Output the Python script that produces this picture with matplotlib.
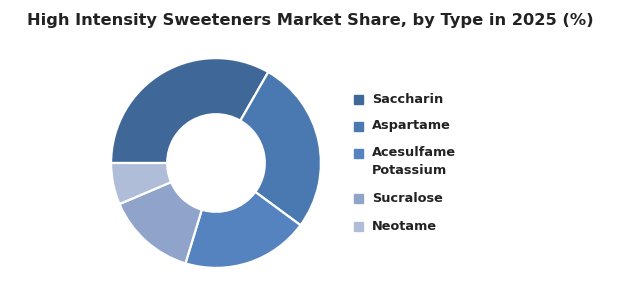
import matplotlib.pyplot as plt
from matplotlib.patches import Rectangle

# data
types = ['Saccharin', 'Aspartame', 'Acesulfame\nPotassium', 'Sucralose', 'Neotame']
shares = [33.3, 26.8, 19.6, 13.9, 6.4]
colors = ['#3F6797', '#4A79B1', '#5483BF', '#8FA3CB', '#AFBDD8']

fig = plt.figure(figsize=(6.2, 3.0), dpi=100)

# donut
cx, cy, r = 216, 163, 107
ax = fig.add_axes([(cx - r) / 620, (300 - cy - r) / 300, 2 * r / 620, 2 * r / 300])
ax.pie(shares, colors=colors, startangle=180, counterclock=False,
       wedgeprops=dict(width=0.535, edgecolor='white', linewidth=1.6))
ax.set_xlim(-1.02, 1.02)
ax.set_ylim(-1.02, 1.02)
ax.set_aspect('equal')
ax.axis('off')

# title
fig.text(0.5, 1 - 21 / 300, 'High Intensity Sweeteners Market Share, by Type in 2025 (%)',
         ha='center', va='center', fontsize=11.7, fontweight='bold', color='#222222')

# legend drawn by hand, square sits beside the first line of each label
ys = [99, 126, 153, 198, 226]
for lab, col, y in zip(types, colors, ys):
    fig.patches.append(Rectangle((354 / 620, 1 - (y + 4.5) / 300), 9 / 620, 9 / 300,
                                 transform=fig.transFigure, color=col))
    for i, line in enumerate(lab.split('\n')):
        fig.text(372 / 620, 1 - (y + 18 * i) / 300, line, ha='left', va='center',
                 fontsize=9.3, fontweight='bold', color='#222222')

plt.savefig('out.png')
